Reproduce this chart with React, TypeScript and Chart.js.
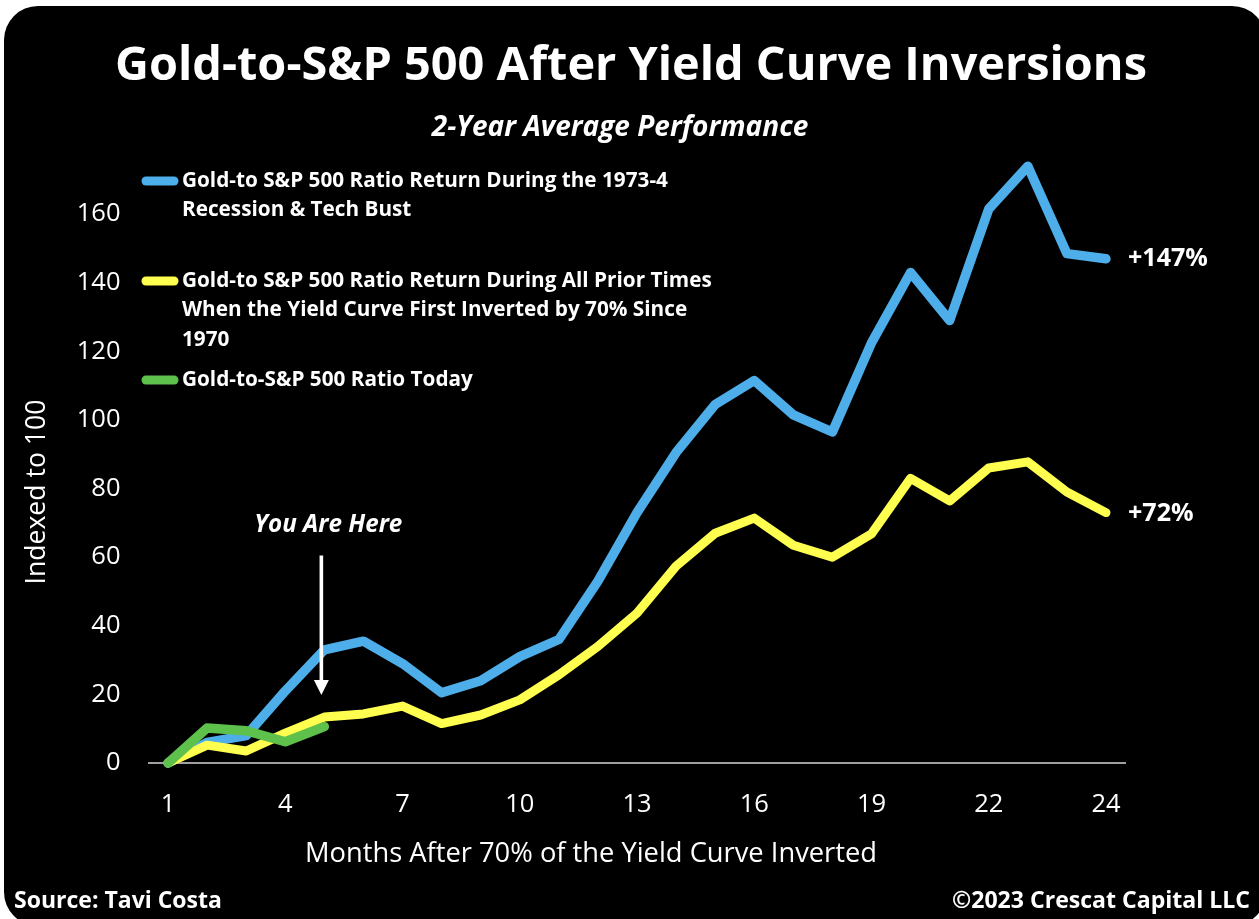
import React, { useEffect, useRef } from "react";
import { Chart, registerables } from "chart.js";

Chart.register(...registerables);

// ---- data ----
const monthLabels = ["1", "", "", "4", "", "", "7", "", "", "10", "", "", "13", "", "", "16", "", "", "19", "", "", "22", "", "", "24"];
const recessionTechBust = [0, 6, 8, 21, 33, 35.5, 29, 20.5, 24, 31, 36, 53, 73, 90.5, 104.5, 111.5, 101.5, 96.5, 122.5, 143, 129, 161.5, 174, 148.5, 147];
const allPriorInversions = [0, 5.2, 3.5, 8.7, 13.4, 14.3, 16.6, 11.5, 14, 18.4, 25.7, 34, 43.7, 57.4, 67, 71.4, 63.5, 60, 66.8, 83, 76.4, 86, 87.8, 79, 73];
const ratioToday = [0, 10.2, 9.4, 6.2, 10.6];
const yTickValues = [0, 20, 40, 60, 80, 100, 120, 140, 160];

const seriesNames = [
  "Gold-to S&P 500 Ratio Return During the 1973-4 Recession & Tech Bust",
  "Gold-to S&P 500 Ratio Return During All Prior Times When the Yield Curve First Inverted by 70% Since 1970",
  "Gold-to-S&P 500 Ratio Today",
];
const legendLines = [
  ["Gold-to S&P 500 Ratio Return During the 1973-4", "Recession & Tech Bust"],
  ["Gold-to S&P 500 Ratio Return During All Prior Times", "When the Yield Curve First Inverted by 70% Since", "1970"],
  ["Gold-to-S&P 500 Ratio Today"],
];
const endLabels = ["+147%", "+72%"];
const youAreHereIndex = 4;

const titleText = "Gold-to-S&P 500 After Yield Curve Inversions";
const subtitleText = "2-Year Average Performance";
const xTitle = "Months After 70% of the Yield Curve Inverted";
const yTitle = "Indexed to 100";
const sourceText = "Source: Tavi Costa";
const copyrightText = "\u00a92023 Crescat Capital LLC";

// ---- styles ----
const BLUE = "#4DAEEA";
const YELLOW = "#FFFF4F";
const GREEN = "#5DC14B";
const FAMILY = '"Open Sans", "DejaVu Sans", sans-serif';

function fitFont(ctx: CanvasRenderingContext2D, text: string, weight: string, style: string, target: number, maxSize: number) {
  ctx.font = `${style} ${weight} 100px ${FAMILY}`;
  const w = ctx.measureText(text).width;
  const size = Math.min(maxSize, (100 * target) / w);
  return `${style} ${weight} ${size.toFixed(2)}px ${FAMILY}`;
}

function roundRect(ctx: CanvasRenderingContext2D, x: number, y: number, w: number, h: number, r: number) {
  ctx.beginPath();
  ctx.moveTo(x + r, y);
  ctx.lineTo(x + w - r, y);
  ctx.arcTo(x + w, y, x + w, y + r, r);
  ctx.lineTo(x + w, y + h - r);
  ctx.arcTo(x + w, y + h, x + w - r, y + h, r);
  ctx.lineTo(x + r, y + h);
  ctx.arcTo(x, y + h, x, y + h - r, r);
  ctx.lineTo(x, y + r);
  ctx.arcTo(x, y, x + r, y, r);
  ctx.closePath();
}

const backgroundPlugin = {
  id: "bgPanel",
  beforeDraw(chart: any) {
    const ctx = chart.ctx as CanvasRenderingContext2D;
    ctx.save();
    ctx.fillStyle = "#ffffff";
    ctx.fillRect(0, 0, chart.width, chart.height);
    roundRect(ctx, 4, 6, 1262, 920, 34);
    ctx.fillStyle = "#000000";
    ctx.fill();
    ctx.restore();
  },
};

const decorPlugin = {
  id: "decor",
  afterDraw(chart: any) {
    const ctx = chart.ctx as CanvasRenderingContext2D;
    const xs = chart.scales.x;
    const ys = chart.scales.y;
    ctx.save();
    ctx.fillStyle = "#ffffff";
    ctx.textBaseline = "middle";

    // title
    ctx.textAlign = "center";
    ctx.font = fitFont(ctx, titleText, "bold", "normal", 1032, 52);
    ctx.fillText(titleText, 631, 67);
    ctx.font = fitFont(ctx, subtitleText, "bold", "italic", 396, 28);
    ctx.fillText(subtitleText, 620, 128);

    // axis titles
    ctx.font = fitFont(ctx, xTitle, "normal", "normal", 572, 28);
    ctx.fillText(xTitle, 591, 854);
    ctx.save();
    ctx.translate(37, 492);
    ctx.rotate(-Math.PI / 2);
    ctx.font = fitFont(ctx, yTitle, "normal", "normal", 185, 28);
    ctx.fillText(yTitle, 0, 0);
    ctx.restore();

    // legend
    const swatchColors = [BLUE, YELLOW, GREEN];
    const legendTops = [181, 281, 380];
    ctx.font = fitFont(ctx, legendLines[1][0], "bold", "normal", 530, 24);
    ctx.textAlign = "left";
    legendLines.forEach((lines, i) => {
      ctx.strokeStyle = swatchColors[i];
      ctx.lineWidth = 9;
      ctx.lineCap = "round";
      ctx.beginPath();
      ctx.moveTo(146, legendTops[i]);
      ctx.lineTo(174, legendTops[i]);
      ctx.stroke();
      lines.forEach((line, j) => {
        ctx.fillText(line, 182, legendTops[i] + j * 29.3);
      });
    });

    // end labels
    const blueMeta = chart.getDatasetMeta(2);
    const yellowMeta = chart.getDatasetMeta(1);
    const bluePt = blueMeta.data[blueMeta.data.length - 1];
    const yellowPt = yellowMeta.data[yellowMeta.data.length - 1];
    ctx.font = fitFont(ctx, endLabels[0], "bold", "normal", 80, 26);
    ctx.fillText(endLabels[0], bluePt.x + 22, bluePt.y);
    ctx.fillText(endLabels[1], yellowPt.x + 22, yellowPt.y + 1);

    // You Are Here annotation
    const ax = xs.getPixelForValue(youAreHereIndex) - 3;
    ctx.textAlign = "center";
    ctx.font = fitFont(ctx, "You Are Here", "bold", "italic", 148, 26);
    ctx.fillText("You Are Here", ax + 7, ys.getPixelForValue(69.5));
    const yStart = ys.getPixelForValue(60.5);
    const yTip = ys.getPixelForValue(19.8);
    ctx.strokeStyle = "#ffffff";
    ctx.lineWidth = 3.6;
    ctx.lineCap = "butt";
    ctx.beginPath();
    ctx.moveTo(ax, yStart);
    ctx.lineTo(ax, yTip - 12);
    ctx.stroke();
    ctx.beginPath();
    ctx.moveTo(ax - 7.5, yTip - 15);
    ctx.lineTo(ax + 7.5, yTip - 15);
    ctx.lineTo(ax, yTip);
    ctx.closePath();
    ctx.fill();

    // footer
    ctx.textAlign = "left";
    ctx.font = fitFont(ctx, sourceText, "bold", "normal", 208, 26);
    ctx.fillText(sourceText, 14, 901);
    ctx.textAlign = "right";
    ctx.font = fitFont(ctx, copyrightText, "bold", "normal", 298, 26);
    ctx.fillText(copyrightText, 1250, 901);

    ctx.restore();
  },
};

export default function App() {
  const canvasRef = useRef<HTMLCanvasElement | null>(null);

  useEffect(() => {
    const canvas = canvasRef.current;
    if (!canvas) return;
    const chart = new Chart(canvas, {
      type: "line",
      data: {
        labels: monthLabels,
        datasets: [
          {
            label: seriesNames[2],
            data: ratioToday,
            borderColor: GREEN,
            backgroundColor: GREEN,
            borderWidth: 9.5,
            pointRadius: 0,
            tension: 0,
            borderCapStyle: "round",
            borderJoinStyle: "round",
            clip: false,
            order: 1,
          },
          {
            label: seriesNames[1],
            data: allPriorInversions,
            borderColor: YELLOW,
            backgroundColor: YELLOW,
            borderWidth: 9,
            pointRadius: 0,
            tension: 0,
            borderCapStyle: "round",
            borderJoinStyle: "round",
            clip: false,
            order: 2,
          },
          {
            label: seriesNames[0],
            data: recessionTechBust,
            borderColor: BLUE,
            backgroundColor: BLUE,
            borderWidth: 9.5,
            pointRadius: 0,
            tension: 0,
            borderCapStyle: "round",
            borderJoinStyle: "round",
            clip: false,
            order: 3,
          },
        ],
      },
      options: {
        responsive: false,
        animation: false,
        devicePixelRatio: 1,
        layout: { padding: { top: 145.6, right: 133.5, bottom: 0, left: 0 } },
        plugins: {
          legend: { display: false },
          title: { display: false },
          tooltip: { enabled: false },
        },
        scales: {
          x: {
            type: "category",
            offset: true,
            grid: { display: false, drawTicks: false, tickLength: 0 },
            border: { display: true, color: "#a0a0a0", width: 2 },
            ticks: {
              autoSkip: false,
              maxRotation: 0,
              color: "#ffffff",
              padding: 26,
              font: { family: FAMILY, size: 25.5 },
            },
            afterFit(scale: any) {
              scale.height = 156;
            },
          },
          y: {
            min: 0,
            max: 180,
            afterBuildTicks(scale: any) {
              scale.ticks = yTickValues.map((v) => ({ value: v }));
            },
            grid: { display: false, drawTicks: false, tickLength: 0 },
            border: { display: false },
            ticks: {
              color: "#ffffff",
              padding: 28,
              font: { family: FAMILY, size: 25.5 },
            },
            afterFit(scale: any) {
              scale.width = 148.5;
            },
          },
        },
      },
      plugins: [backgroundPlugin, decorPlugin],
    } as any);
    return () => chart.destroy();
  }, []);

  return (
    <div style={{ position: "fixed", left: 0, top: 0, width: 1259, height: 919, background: "#fff" }}>
      <canvas ref={canvasRef} width={1259} height={919} style={{ display: "block", width: 1259, height: 919 }} />
    </div>
  );
}
